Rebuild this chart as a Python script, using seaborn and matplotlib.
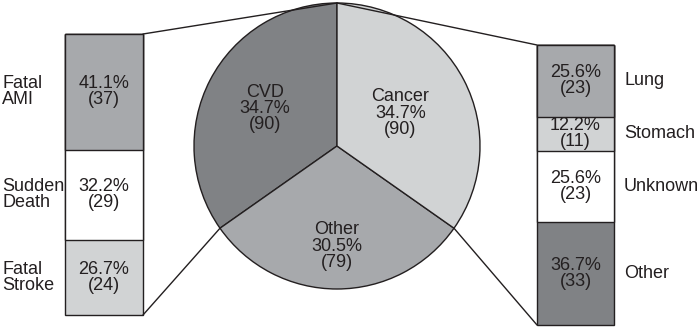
import numpy as np
import matplotlib.pyplot as plt
import seaborn as sns
from matplotlib.patches import ConnectionPatch

# data
pie_labels = ['CVD', 'Other', 'Cancer']
pie_counts = [90, 79, 90]
cvd_labels = ['Fatal\nAMI', 'Sudden\nDeath', 'Fatal\nStroke']
cvd_counts = [37, 29, 24]
cancer_labels = ['Lung', 'Stomach', 'Unknown', 'Other']
cancer_counts = [23, 11, 23, 33]

DARK = '#808285'
MID = '#a7a9ac'
LIGHT = '#d1d3d4'
WHITE = '#ffffff'
INK = '#231f20'

pie_colors = [DARK, MID, LIGHT]
cvd_colors = [MID, WHITE, LIGHT]
cancer_colors = [MID, LIGHT, WHITE, DARK]

sns.set_theme(style='white')
plt.rcParams['font.family'] = ['Liberation Sans', 'DejaVu Sans']
plt.rcParams['font.size'] = 13
plt.rcParams['text.color'] = INK

W, H = 700, 327
fig = plt.figure(figsize=(7, 3.27), dpi=100)
ax = fig.add_axes([0, 0, 1, 1])

# pie in the middle
cx, cy, r = 337, H - 146, 143
wedges, _ = ax.pie(pie_counts, colors=pie_colors, startangle=90, counterclock=True,
                   center=(cx, cy), radius=r,
                   wedgeprops=dict(edgecolor=INK, linewidth=1))
ax.set_xlim(0, W)
ax.set_ylim(0, H)
ax.set_aspect('equal')
ax.axis('off')

total = sum(pie_counts)
label_dist = [0.57, 0.70, 0.50]
for w, lab, n, f in zip(wedges, pie_labels, pie_counts, label_dist):
    ang = np.deg2rad((w.theta1 + w.theta2) / 2)
    ax.text(cx + f * r * np.cos(ang), cy + f * r * np.sin(ang),
            f'{lab}\n{n / total * 100:.1f}%\n({n})',
            ha='center', va='center', linespacing=0.95)


def stacked_bar(rect, labels, counts, colors, label_dx):
    bax = fig.add_axes(rect)
    tot = sum(counts)
    cum = np.cumsum(counts)
    # largest cumulative first, so smaller ones sit on top
    for c, col in reversed(list(zip(cum, colors))):
        sns.barplot(x=[0], y=[c], color=col, width=1, saturation=1,
                    edgecolor=INK, linewidth=1, errorbar=None, ax=bax)
    for p in bax.patches:
        p.set_clip_on(False)
    bax.set_xlim(-0.5, 0.5)
    bax.set_ylim(tot, 0)
    bax.axis('off')
    starts = cum - np.array(counts)
    xa = 1 if label_dx > 0 else 0
    for lab, n, s in zip(labels, counts, starts):
        mid = s + n / 2
        bax.text(0, mid, f'{n / tot * 100:.1f}%\n({n})',
                 ha='center', va='center', linespacing=0.95)
        bax.annotate(lab, xy=(xa, mid), xycoords=bax.get_yaxis_transform(),
                     xytext=(label_dx, 0), textcoords='offset pixels',
                     ha='left', va='center', linespacing=0.95)
    return bax


lax = stacked_bar([65 / W, 12 / H, 78 / W, 281 / H], cvd_labels, cvd_counts,
                  cvd_colors, -63)
rax = stacked_bar([537 / W, 2 / H, 77 / W, 280 / H], cancer_labels, cancer_counts,
                  cancer_colors, 10)

# connector lines from the pie to the bars
def edge_point(theta):
    t = np.deg2rad(theta)
    return (cx + r * np.cos(t), cy + r * np.sin(t))

top = edge_point(90)
links = [
    (top, lax, (1, 1)),
    (edge_point(wedges[0].theta2), lax, (1, 0)),
    (top, rax, (0, 1)),
    (edge_point(wedges[1].theta2), rax, (0, 0)),
]
for pA, bax, pB in links:
    con = ConnectionPatch(xyA=pA, coordsA=ax.transData, xyB=pB, coordsB=bax.transAxes,
                          color=INK, linewidth=1)
    fig.add_artist(con)

plt.savefig('out.png', dpi=100)
